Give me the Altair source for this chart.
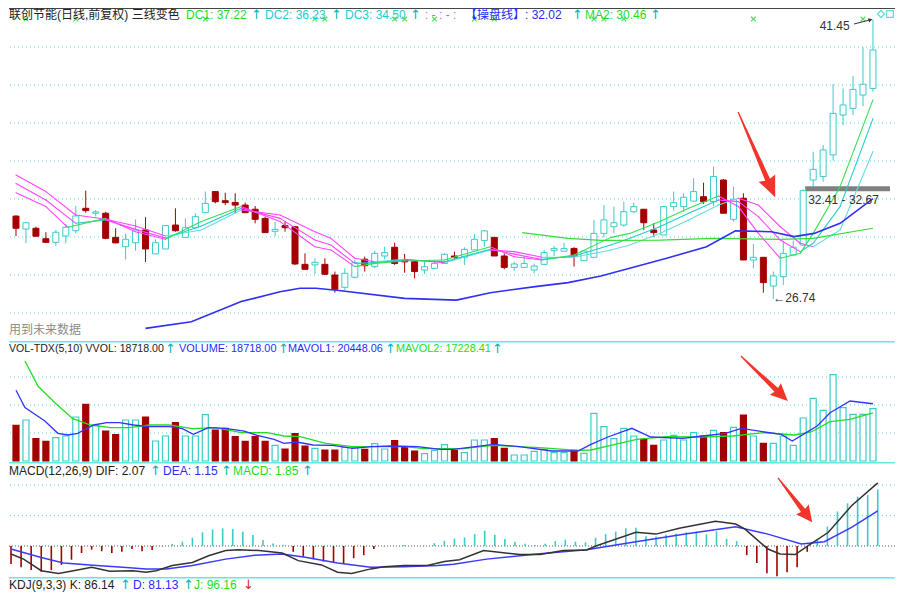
import altair as alt
import pandas as pd
import numpy as np

# ---------------- data ----------------
opens = [31.10, 30.42, 30.46, 29.91, 29.72, 30.05, 30.33, 31.51, 31.25, 31.25,
         29.98, 29.49, 29.70, 30.37, 29.11, 29.37, 30.63, 29.98, 30.49, 31.28,
         32.39, 31.91, 31.82, 31.68, 31.46, 30.98, 30.30, 30.60, 30.54, 28.56,
         28.53, 28.56, 28.00, 27.35, 27.88, 28.83, 28.44, 29.00, 29.46, 28.79,
         28.70, 28.26, 28.35, 28.61, 29.00, 28.93, 29.32, 29.81, 29.98, 29.00,
         28.40, 28.40, 28.26, 28.56, 29.28, 29.25, 29.40, 28.75, 28.93, 30.19,
         30.54, 30.63, 31.33, 31.46, 30.37, 30.11, 31.60, 31.60, 31.89, 32.12,
         31.86, 33.00, 30.93, 32.04, 28.79, 28.93, 27.42, 27.91, 29.05, 29.58,
         33.00, 33.18, 34.32, 36.42, 36.77, 37.47, 37.82]
highs = [31.15, 30.80, 30.54, 30.25, 30.37, 30.68, 31.63, 32.44, 31.42, 31.32,
         30.46, 30.19, 30.93, 31.04, 29.88, 30.63, 31.51, 30.98, 31.25, 32.39,
         32.41, 32.33, 32.30, 31.81, 31.63, 31.07, 30.81, 30.81, 30.58, 29.14,
         28.88, 28.88, 28.18, 28.35, 28.79, 28.97, 29.28, 29.49, 29.70, 29.11,
         28.79, 28.70, 28.79, 29.14, 29.23, 29.46, 30.16, 30.37, 29.98, 29.14,
         28.70, 29.00, 28.61, 29.32, 29.53, 29.70, 29.46, 29.32, 30.90, 31.68,
         31.60, 31.86, 31.81, 31.46, 30.72, 31.63, 32.39, 32.30, 33.09, 32.86,
         33.70, 33.04, 32.65, 32.30, 29.63, 28.93, 28.18, 29.81, 29.81, 32.51,
         34.49, 34.84, 38.05, 37.82, 38.47, 39.98, 41.45]
lows = [30.05, 29.67, 30.02, 29.70, 29.53, 29.67, 30.19, 31.28, 31.07, 29.88,
        29.67, 28.82, 29.28, 28.68, 29.11, 29.37, 30.28, 29.98, 30.49, 31.28,
        31.77, 31.68, 31.25, 31.28, 30.72, 30.23, 30.05, 30.28, 28.53, 28.30,
        28.05, 28.00, 27.07, 27.21, 27.82, 28.18, 28.35, 28.82, 28.53, 28.12,
        27.82, 28.05, 28.35, 28.61, 28.79, 28.53, 29.32, 29.49, 29.00, 28.30,
        28.23, 28.40, 28.09, 28.53, 29.00, 29.25, 28.44, 28.75, 28.93, 29.98,
        30.19, 30.54, 31.25, 30.37, 30.02, 30.11, 31.39, 31.33, 31.89, 31.74,
        31.63, 31.25, 30.81, 28.79, 28.35, 27.07, 26.74, 27.47, 29.05, 29.53,
        32.65, 32.91, 34.02, 35.89, 36.42, 36.89, 37.65]
closes = [30.46, 30.75, 30.04, 29.72, 30.25, 30.51, 31.11, 31.39, 31.32, 29.93,
          29.69, 29.88, 30.37, 29.37, 29.70, 30.60, 30.33, 30.49, 31.07, 31.77,
          31.86, 31.81, 31.68, 31.28, 30.93, 30.23, 30.40, 30.49, 28.58, 28.30,
          28.67, 28.04, 27.25, 28.09, 28.65, 28.49, 29.14, 29.18, 28.61, 28.69,
          28.18, 28.44, 28.61, 29.09, 28.93, 29.35, 29.88, 30.32, 29.00, 28.40,
          28.58, 28.61, 28.47, 29.18, 29.40, 29.39, 29.00, 29.26, 30.19, 30.90,
          30.75, 31.33, 31.60, 30.75, 30.23, 31.60, 31.81, 32.09, 32.39, 31.86,
          33.18, 31.25, 31.98, 28.79, 28.93, 27.60, 27.95, 29.14, 29.46, 32.44,
          33.56, 34.58, 36.51, 36.95, 37.77, 38.04, 39.84]
volumes = [12750, 14640, 7970, 7020, 8330, 8930, 15710, 20240, 12740, 10710,
           9400, 14640, 14640, 15710, 7140, 8930, 13690, 8930, 8930, 16550,
           11070, 11670, 8690, 7020, 8690, 7020, 5590, 4290, 9760, 5360,
           4520, 3930, 3930, 4880, 4880, 4170, 6190, 4290, 7260, 4880,
           3570, 2620, 3810, 5830, 3750, 3000, 7500, 7500, 7980, 4520,
           2140, 2140, 3450, 4170, 2980, 2980, 3810, 2740, 17020, 12260,
           7980, 11670, 8930, 7740, 5590, 7500, 9170, 7500, 10120, 8930,
           10950, 10120, 12020, 16430, 8930, 6310, 6310, 8930, 5590, 15360,
           22380, 18090, 30830, 19050, 16670, 16670, 18718]
macd_hist = [-0.59, -0.70, -0.79, -0.84, -0.79, -0.62, -0.45, -0.23, -0.12, -0.17,
             -0.23, -0.19, -0.10, -0.17, -0.13, -0.01, 0.07, 0.14, 0.27, 0.45,
             0.54, 0.58, 0.56, 0.47, 0.36, 0.20, 0.08, 0.03, -0.19, -0.35,
             -0.43, -0.51, -0.54, -0.59, -0.40, -0.30, -0.10, -0.01, 0.01, 0.03,
             0.01, 0.01, 0.09, 0.17, 0.24, 0.28, 0.39, 0.50, 0.37, 0.23,
             0.14, 0.07, 0.03, 0.07, 0.16, 0.21, 0.14, 0.12, 0.27, 0.39,
             0.47, 0.58, 0.60, 0.32, 0.31, 0.37, 0.40, 0.45, 0.47, 0.38,
             0.48, 0.23, 0.16, -0.30, -0.56, -0.89, -0.99, -0.86, -0.70, -0.19,
             0.23, 0.64, 1.13, 1.40, 1.62, 1.67, 1.85]

# three-colour lines (index, value)
dc1_idx = [0, 3, 5.2, 9, 12, 15, 18.6, 22.6, 26.5, 30, 31.6, 34, 36, 39, 43, 47.6, 50, 52.8, 56, 59.7,
           61.6, 64.6, 67.5, 70.5, 72.5, 74.5, 76.7, 78.7, 80, 82.7, 86]
dc1_val = [32.33, 31.60, 30.51, 30.98, 30.28, 29.88, 30.81, 31.60, 30.81, 29.49, 29.32, 28.44, 28.61, 28.74,
           28.79, 29.49, 28.96, 28.79, 29.05, 29.98, 30.19, 30.81, 31.51, 32.16, 31.60, 30.19, 28.88, 29.14,
           30.19, 32.65, 37.22]
dc2_idx = [0, 3, 6, 9, 12, 15, 18.6, 22.6, 26.5, 30, 31.6, 34, 36, 39, 43, 47.6, 50, 52.8, 56, 59.7,
           61.6, 64.6, 67.5, 70.5, 72.5, 74.5, 76.7, 78.7, 80, 82.7, 86]
dc2_val = [32.82, 31.95, 30.72, 30.90, 30.40, 29.95, 30.58, 31.51, 30.98, 29.84, 29.58, 28.61, 28.65, 28.79,
           28.70, 29.35, 29.10, 28.82, 29.00, 29.58, 29.93, 30.54, 31.25, 31.95, 31.86, 31.07, 29.84, 29.23,
           29.67, 31.60, 36.23]
dc3_idx = [0, 3, 6, 9, 12, 15, 18.6, 22.6, 26.5, 30, 31.6, 34, 36, 39, 43, 47.6, 50, 52.8, 56, 59.7,
           61.6, 64.6, 67.5, 70.5, 72.5, 74.5, 76.7, 78.7, 80, 82.7, 86]
dc3_val = [33.26, 32.39, 31.16, 30.93, 30.58, 30.05, 30.37, 31.42, 31.16, 30.28, 29.93, 28.88, 28.70, 28.82,
           28.65, 29.32, 29.23, 28.93, 28.93, 29.32, 29.58, 30.19, 30.89, 31.68, 32.04, 31.68, 30.54, 29.67,
           29.49, 30.37, 34.50]
cp_idx = [13, 17.6, 22.6, 26.5, 28.5, 30.1, 32.4, 39, 44.2, 47.6, 52.1, 55.4, 58.7, 65.3, 69.3, 72.2,
          75.8, 78.1, 80.1, 82.7, 86]
cp_val = [25.19, 25.54, 26.60, 27.12, 27.30, 27.30, 27.18, 26.77, 26.68, 27.07, 27.39, 27.60, 27.95,
          28.88, 29.49, 30.32, 30.28, 30.02, 30.19, 30.72, 32.02]
ma2_idx = [50.8, 55.4, 58.7, 64.6, 70, 76.7, 80, 86]
ma2_val = [30.23, 29.93, 29.82, 29.84, 29.93, 29.87, 29.93, 30.46]

mavol1_idx = [0, 0.9, 2.9, 4.2, 5.2, 6.2, 7.8, 9.1, 10.4, 11.8, 13.4, 15.4, 16.7, 17.8, 19.3, 21, 22.9,
              24.2, 25.9, 26.9, 28.2, 29.8, 31.8, 33.8, 35.7, 37.7, 40.3, 42.6, 43.9, 47.9, 50.5, 53.8,
              56.4, 57.7, 59.4, 61.8, 63.7, 66.9, 68.9, 71.2, 72.8, 75.1, 76.8, 77.9, 79.3, 80.4, 81.7,
              83.7, 86]
mavol1_val = [25250, 19050, 14290, 9880, 9290, 9880, 12860, 13690, 13690, 12860, 12260, 12260, 11550,
              9520, 11910, 11670, 10710, 9170, 7740, 6310, 6790, 5710, 5590, 4520, 5120, 5360, 5120,
              4170, 4170, 5950, 5120, 3570, 3570, 5950, 8570, 11670, 8570, 8100, 8930, 9880, 11670,
              10360, 9520, 7140, 10120, 12500, 17260, 21430, 20448]
mavol2_idx = [0.9, 2.2, 3.9, 5.7, 7.5, 9.5, 11.4, 13.4, 15.4, 17.7, 20, 22.6, 25.2, 26.9, 28.5, 31.1,
              33.8, 39, 41, 44.9, 47.9, 52.5, 56.4, 57.7, 59.7, 62.3, 65.3, 68.6, 71.9, 75.1, 78.1, 79.8,
              81.7, 83.7, 86]
mavol2_val = [35710, 26790, 20830, 15120, 12860, 11910, 11910, 12860, 12860, 11550, 11910, 10120, 10120,
              8930, 8690, 6310, 5120, 5120, 4400, 4400, 5590, 4760, 3810, 3930, 5590, 7740, 8690, 8570,
              8930, 10120, 9290, 10360, 14050, 14880, 17228]

dif_idx = [0, 1.25, 3, 4.7, 6.2, 8, 9.8, 12.1, 13.4, 14.4, 16, 18, 19.6, 21.3, 22.6, 24.6, 26.9, 28.5,
           30.8, 32.4, 33.8, 35.7, 37, 39, 41.3, 43, 44.5, 46.9, 50.5, 52.5, 54.8, 57.1, 58.1, 62, 64,
           66.3, 69.9, 71.9, 72.8, 75.1, 76.3, 77.8, 79.1, 81.1, 83.4, 86]
dif_val = [-0.26, -0.43, -0.81, -0.90, -0.81, -0.70, -0.83, -0.81, -0.86, -0.81, -0.64, -0.54, -0.32,
           -0.15, -0.12, -0.15, -0.23, -0.48, -0.62, -0.86, -0.90, -0.75, -0.68, -0.64, -0.64, -0.51,
           -0.45, -0.15, -0.28, -0.28, -0.15, -0.13, 0.01, 0.45, 0.39, 0.58, 0.81, 0.72, 0.56, -0.10,
           -0.26, -0.28, 0.01, 0.45, 1.32, 2.07]
dea_idx = [0, 2.9, 5.2, 8.5, 11.1, 13.4, 15.4, 18, 21.3, 24.2, 26.9, 29.2, 32.4, 35.7, 39, 42.3, 43.9,
           47.2, 52.2, 57.1, 62, 66.9, 71.9, 75.1, 78.4, 80.7, 83.4, 86]
dea_val = [-0.10, -0.37, -0.56, -0.64, -0.70, -0.75, -0.75, -0.64, -0.43, -0.30, -0.26, -0.37, -0.56,
           -0.70, -0.68, -0.64, -0.60, -0.43, -0.26, -0.12, 0.14, 0.39, 0.63, 0.39, 0.07, 0.14, 0.61, 1.15]

signal_idx = [1, 6, 19, 30, 31, 38, 39, 42, 46, 48, 58, 59, 61, 74, 85]   # green x markers
main_grid = [26, 28, 30, 32, 34, 36, 38, 40]
vol_grid = [10000, 20000, 30000]
macd_grid = [1, 2]
band_lo, band_hi = 32.41, 32.67

# ---------------- layout / style ----------------
W = 886
H_MAIN, H_VOL, H_MACD, H_KDJ = 333, 121, 115, 14
X_DOM = [-0.2, 87.71]
MAIN_DOM = [24.526, 42.053]
VOL_DOM = [-357, 42857]
MACD_DOM = [-1.016, 2.754]

UP = "#3ccaca"; DOWN = "#a40000"; GRID = "#5cdcdc"; SEP = "#66e6e6"
MAG = "#ff44ff"; GREEN = "#22dd22"; CYAN = "#22cccc"; CYAN2 = "#66dede"; BLUE = "#2a2aff"
DARK = "#222222"; RED_ARROW = "#f2352b"; ARR = "#00b4b4"
LATIN = "Liberation Sans, Arial, DejaVu Sans, Noto Sans CJK SC"
CJK = "Liberation Sans, Noto Sans CJK SC"

xs = alt.Scale(domain=X_DOM, nice=False, zero=False)
ONE = pd.DataFrame({"a": [0]})


def X(f):
    return alt.X(f, scale=xs, axis=None)


def Y(f, dom):
    return alt.Y(f, scale=alt.Scale(domain=dom, nice=False, zero=False), axis=None)


def label(txt, px, py, color, size=12, font=LATIN, align="left"):
    return alt.Chart(ONE).mark_text(text=txt, align=align, baseline="middle", fontSize=size,
                                    font=font, color=color).encode(x=alt.value(px), y=alt.value(py))


def header(items, py, size=12):
    out = []
    for item in items:
        txt, px, col = item[:3]
        fs = item[3] if len(item) > 3 else size
        if txt in ("↑", "↓"):
            out.append(label(txt, px, py, col, size=13, font="DejaVu Sans"))
        else:
            out.append(label(txt, px, py, col, size=fs))
    return out


def hline(py, color, width=1.5):
    return alt.Chart(ONE).mark_rule(color=color, strokeWidth=width).encode(
        x=alt.value(0), x2=alt.value(W), y=alt.value(py))


def seg_df(idx, val, up_col, down_col):
    rows = []
    for k in range(len(idx) - 1):
        rows.append({"x": idx[k], "y": val[k], "x2": idx[k + 1], "y2": val[k + 1],
                     "col": up_col if val[k + 1] >= val[k] else down_col})
    return pd.DataFrame(rows)


def seg_layer(df, dom, width=1.1):
    return alt.Chart(df).mark_rule(strokeWidth=width, strokeCap="round", clip=True).encode(
        x=X("x:Q"), x2="x2:Q", y=Y("y:Q", dom), y2="y2:Q", color=alt.Color("col:N", scale=None))


def line_layer(idx, val, dom, color, width=1.3):
    return alt.Chart(pd.DataFrame({"x": idx, "y": val})).mark_line(
        color=color, strokeWidth=width, clip=True).encode(x=X("x:Q"), y=Y("y:Q", dom))


def arrow(xv, yv, dom, length, angle, hw=8.5, hl=18, sw=2.6, tw=0.6):
    u = length / 2.0
    yb = 1 - 2.0 * hl / length
    path = (f"M{-tw/u:.3f},-1L{tw/u:.3f},-1L{sw/u:.3f},{yb:.3f}L{hw/u:.3f},{yb-0.04:.3f}"
            f"L0,1L{-hw/u:.3f},{yb-0.04:.3f}L{-sw/u:.3f},{yb:.3f}Z")
    return alt.Chart(pd.DataFrame({"x": [xv], "y": [yv]})).mark_point(
        shape=path, filled=True, size=length ** 2, angle=angle, color=RED_ARROW, opacity=1,
        strokeWidth=0).encode(x=X("x:Q"), y=Y("y:Q", dom))


N = len(opens)
df = pd.DataFrame({"i": list(range(N)), "o": opens, "h": highs, "l": lows, "c": closes,
                   "v": volumes, "m": macd_hist})
df["dir"] = np.where(df["c"] >= df["o"], "up", "down")
df["sgn"] = np.where(df["m"] >= 0, "pos", "neg")
dir_col = alt.Scale(domain=["up", "down"], range=[UP, DOWN])
dir_fill = alt.Scale(domain=["up", "down"], range=["#ffffff", DOWN])

# ---------------- main panel ----------------
main_layers = [
    alt.Chart(pd.DataFrame({"g": main_grid})).mark_rule(strokeDash=[1, 3], color=GRID).encode(
        y=Y("g:Q", MAIN_DOM)),
    hline(0.5, "#444444", 1),
    alt.Chart(pd.DataFrame({"x": [79.2], "x2": [X_DOM[1]], "y": [band_lo], "y2": [band_hi]})).mark_rect(
        color="#808080", clip=True).encode(x=X("x:Q"), x2="x2:Q", y=Y("y:Q", MAIN_DOM), y2="y2:Q"),
    alt.Chart(df).mark_rule(strokeWidth=1, clip=True).encode(
        x=X("i:Q"), y=Y("l:Q", MAIN_DOM), y2="h:Q", color=alt.Color("dir:N", scale=dir_col, legend=None)),
    alt.Chart(df).mark_bar(size=6, strokeWidth=1, clip=True).encode(
        x=X("i:Q"), y=Y("o:Q", MAIN_DOM), y2="c:Q",
        fill=alt.Fill("dir:N", scale=dir_fill, legend=None),
        stroke=alt.Stroke("dir:N", scale=dir_col, legend=None)),
    seg_layer(seg_df(dc3_idx, dc3_val, CYAN2, MAG), MAIN_DOM),
    seg_layer(seg_df(dc2_idx, dc2_val, CYAN, MAG), MAIN_DOM),
    seg_layer(seg_df(dc1_idx, dc1_val, "#33e055", MAG), MAIN_DOM),
    line_layer(ma2_idx, ma2_val, MAIN_DOM, "#33dd33", 1.2),
    line_layer(cp_idx, cp_val, MAIN_DOM, "#3030f0", 1.6),
    alt.Chart(pd.DataFrame({"x": signal_idx, "y": [41.47] * len(signal_idx)})).mark_point(
        shape="M-1,-1L1,1M-1,1L1,-1", filled=False, size=22, strokeWidth=1.2, color="#11cc11").encode(
        x=X("x:Q"), y=Y("y:Q", MAIN_DOM)),
    alt.Chart(pd.DataFrame({"x": [80.65], "y": [41.105], "t": ["41.45"]})).mark_text(
        align="left", baseline="middle", fontSize=12, font=LATIN, color="#333333").encode(
        x=X("x:Q"), y=Y("y:Q", MAIN_DOM), text="t:N"),
    alt.Chart(pd.DataFrame({"x": [84.1], "y": [41.21], "x2": [85.8], "y2": [41.44]})).mark_rule(
        color="#333333", strokeWidth=1).encode(x=X("x:Q"), x2="x2:Q", y=Y("y:Q", MAIN_DOM), y2="y2:Q"),
    alt.Chart(pd.DataFrame({"x": [85.75], "y": [41.43]})).mark_point(
        shape="triangle-right", filled=True, size=20, angle=344, color="#333333", opacity=1).encode(
        x=X("x:Q"), y=Y("y:Q", MAIN_DOM)),
    alt.Chart(pd.DataFrame({"x": [76.0], "y": [26.79], "t": ["←26.74"]})).mark_text(
        align="left", baseline="middle", fontSize=12, font=LATIN, color="#333333").encode(
        x=X("x:Q"), y=Y("y:Q", MAIN_DOM), text="t:N"),
    alt.Chart(pd.DataFrame({"x": [79.5], "y": [31.95], "t": ["32.41 - 32.67"]})).mark_text(
        align="left", baseline="middle", fontSize=12, font=LATIN, color="#333333").encode(
        x=X("x:Q"), y=Y("y:Q", MAIN_DOM), text="t:N"),
    arrow(74.33, 34.34, MAIN_DOM, 93, 336.5, hw=9, hl=19),
    label("用到未来数据", 0, 322, "#8c8c8c", font=CJK),
    alt.Chart(ONE).mark_point(shape="diamond", filled=False, size=50, color=CYAN, strokeWidth=1.2).encode(
        x=alt.value(872), y=alt.value(6)),
    alt.Chart(ONE).mark_point(shape="square", filled=False, size=45, color=CYAN, strokeWidth=1.2).encode(
        x=alt.value(881), y=alt.value(6)),
]
main_layers += header([
    ("联创节能(日线,前复权) 三线变色", 0, DARK),
    ("DC1: 37.22", 177, GREEN), ("↑", 242, ARR),
    ("DC2: 36.23", 256, CYAN), ("↑", 322, ARR),
    ("DC3: 34.50", 336, CYAN), ("↑", 401, ARR),
    (": - : - :", 416, MAG),
    ("【操盘线】: 32.02", 456, BLUE), ("↑", 563, ARR),
    ("MA2: 30.46", 576, GREEN), ("↑", 641, ARR),
], 6.5)
main = alt.layer(*main_layers).properties(width=W, height=H_MAIN)

# ---------------- volume panel ----------------
vol_layers = [
    alt.Chart(pd.DataFrame({"g": vol_grid})).mark_rule(strokeDash=[1, 3], color=GRID).encode(
        y=Y("g:Q", VOL_DOM)),
    hline(0.75, SEP),
    alt.Chart(df).mark_bar(size=6, strokeWidth=1.2, clip=True).encode(
        x=X("i:Q"), y=Y("v:Q", VOL_DOM), y2=alt.datum(0),
        fill=alt.Fill("dir:N", scale=dir_fill, legend=None),
        stroke=alt.Stroke("dir:N", scale=dir_col, legend=None)),
    line_layer(mavol2_idx, mavol2_val, VOL_DOM, GREEN, 1.3),
    line_layer(mavol1_idx, mavol1_val, VOL_DOM, "#3333ff", 1.3),
    arrow(75.1, 29464, VOL_DOM, 65, 313.8, hw=8, hl=16),
]
vol_layers += header([
    ("VOL-TDX(5,10) VVOL: 18718.00", 0, DARK, 10.6), ("↑", 156, ARR),
    ("VOLUME: 18718.00", 170, BLUE, 10.9), ("↑", 269, ARR),
    ("MAVOL1: 20448.06", 279, BLUE, 10.9), ("↑", 376, ARR),
    ("MAVOL2: 17228.41", 387, GREEN, 10.9), ("↑", 483, ARR),
], 8)
vol = alt.layer(*vol_layers).properties(width=W, height=H_VOL)

# ---------------- MACD panel ----------------
macd_layers = [
    alt.Chart(pd.DataFrame({"g": macd_grid})).mark_rule(strokeDash=[1, 3], color=GRID).encode(
        y=Y("g:Q", MACD_DOM)),
    alt.Chart(pd.DataFrame({"g": [0]})).mark_rule(strokeDash=[1, 2], color="#555555").encode(
        y=Y("g:Q", MACD_DOM)),
    hline(0.75, SEP),
    alt.Chart(df).mark_rule(strokeWidth=1.6, clip=True).encode(
        x=X("i:Q"), y=Y("m:Q", MACD_DOM), y2=alt.datum(0),
        color=alt.Color("sgn:N", scale=alt.Scale(domain=["pos", "neg"], range=["#33cccc", "#b82828"]),
                        legend=None)),
    line_layer(dea_idx, dea_val, MACD_DOM, "#3a3aff", 1.5),
    line_layer(dif_idx, dif_val, MACD_DOM, "#333333", 1.5),
    arrow(77.8, 1.508, MACD_DOM, 56, 322.3, hw=8, hl=15),
]
macd_layers += header([
    ("MACD(12,26,9) DIF: 2.07", 0, DARK), ("↑", 141, ARR),
    ("DEA: 1.15", 154, BLUE), ("↑", 212, ARR),
    ("MACD: 1.85", 224, GREEN), ("↑", 293, ARR),
], 9)
macd = alt.layer(*macd_layers).properties(width=W, height=H_MACD)

# ---------------- KDJ header strip ----------------
kdj_layers = [hline(0.75, SEP)]
kdj_layers += header([
    ("KDJ(9,3,3) K: 86.14", 0, DARK), ("↑", 111, ARR),
    ("D: 81.13", 124, BLUE), ("↑", 174, ARR),
    ("J: 96.16", 185, GREEN), ("↓", 234, "#dd2222"),
], 7.5)
kdj = alt.layer(*kdj_layers).properties(width=W, height=H_KDJ)

chart = alt.vconcat(main, vol, macd, kdj, spacing=0, bounds="flush", padding=0).configure_view(
    stroke=None).properties(background="white")

chart.save("out.html", embed_options={"renderer": "svg", "actions": False})
